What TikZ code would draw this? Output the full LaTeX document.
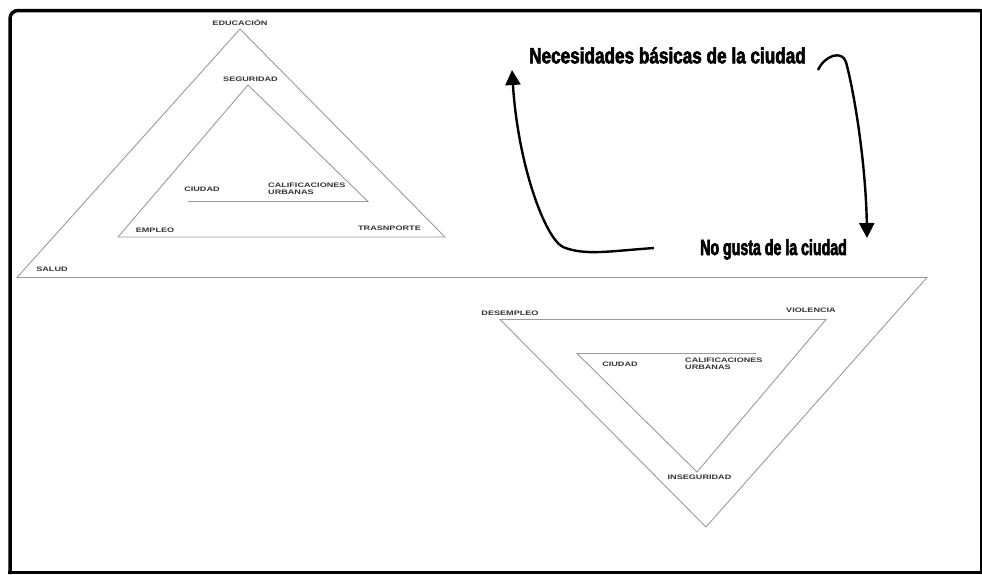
\documentclass[tikz,border=0pt]{standalone}
\usepackage{fontspec}
\setmainfont{Liberation Sans}
\newfontfamily\labfont[FakeStretch=1.4]{Liberation Sans}
\newfontfamily\bigfontA[FakeStretch=0.78,FakeBold=2.6]{Liberation Sans}
\newfontfamily\bigfontB[FakeStretch=0.645,FakeBold=2.6]{Liberation Sans}
\usetikzlibrary{arrows.meta}
\definecolor{linegray}{HTML}{9A9A9A}
\definecolor{labgray}{HTML}{333333}
\tikzset{
  spiral/.style={draw=linegray, line width=0.9pt, line join=miter},
  lab/.style={inner sep=0pt, text=labgray, font=\labfont\bfseries\fontsize{6.5}{6.5}\selectfont, text height=4.7pt, text depth=0pt},
  lab2/.style={inner sep=0pt, text=labgray, font=\labfont\bfseries\fontsize{6.5}{6.8}\selectfont, align=left, anchor=north west},
  headA/.style={inner sep=0pt, anchor=base west, font=\bigfontA\bfseries\fontsize{22}{22}\selectfont},
  headB/.style={inner sep=0pt, anchor=base west, font=\bigfontB\bfseries\fontsize{22}{22}\selectfont},
  bigarrow/.style={line width=2.4pt, -{Triangle[length=15pt,width=15pt]}},
  frameline/.style={line width=3.5pt}
}
\begin{document}
\begin{tikzpicture}[x=1pt,y=-1pt]
\useasboundingbox (0,0) rectangle (982,574);
% frame
\draw[frameline, rounded corners=8pt] (10,574) -- (10,10.5) -- (981,10.5);
\draw[frameline] (8,572.5) -- (982,572.5);
\draw[line width=2pt] (981,9) -- (981,574);
% spiral
\coordinate (p1) at (188,201.5);
\coordinate (p2) at (368,201.5);
\coordinate (p3) at (248,85);
\coordinate (p4) at (118,237);
\coordinate (p5) at (445,237);
\coordinate (p6) at (240,29);
\coordinate (p7) at (17,277.5);
\coordinate (p8) at (927,277.5);
\coordinate (p9) at (706,527);
\coordinate (p10) at (500,319.5);
\coordinate (p11) at (826,319.5);
\coordinate (p12) at (697,472);
\coordinate (p13) at (577,353.5);
\coordinate (p14) at (756,353.5);
\draw[spiral] (p1) -- (p2) -- (p3) -- (p4) -- (p5) -- (p6) -- (p7) -- (p8) -- (p9) -- (p10) -- (p11) -- (p12) -- (p13) -- (p14);
% labels upper
\node[lab] (educ) at (240,23.5) {EDUCACIÓN};
\node[lab] (segu) at (250.5,79.5) {SEGURIDAD};
\node[lab] (ciu1) at (202,189.5) {CIUDAD};
\node[lab2] (cal1) at (268,182.5) {CALIFICACIONES\\URBANAS};
\node[lab] (empl) at (155,230.5) {EMPLEO};
\node[lab] (tras) at (389.5,228.5) {TRASNPORTE};
\node[lab] (salu) at (52,269.5) {SALUD};
% labels lower
\node[lab] (dese) at (510,313.5) {DESEMPLEO};
\node[lab] (viol) at (811,310.5) {VIOLENCIA};
\node[lab] (ciu2) at (620,364.5) {CIUDAD};
\node[lab2] (cal2) at (685,358) {CALIFICACIONES\\URBANAS};
\node[lab] (inse) at (699.5,477.5) {INSEGURIDAD};
% headings
\node[headA] (nec) at (529,63.3) {Necesidades básicas de la ciudad};
\node[headB] (nog) at (700,255) {No gusta de la ciudad};
% arrows
\coordinate (a1s) at (654,248);
\coordinate (a1m) at (563,247);
\coordinate (a1e) at (512,70);
\draw[bigarrow] (a1s) .. controls (610,251) and (585,256) .. (a1m) .. controls (545,238) and (518,165) .. (a1e);
\coordinate (a2s) at (818,70);
\coordinate (a2m) at (846,62);
\coordinate (a2e) at (867,238);
\draw[bigarrow] (a2s) .. controls (825,55) and (842,50) .. (a2m) .. controls (856,100) and (866,170) .. (a2e);
\end{tikzpicture}
\end{document}
